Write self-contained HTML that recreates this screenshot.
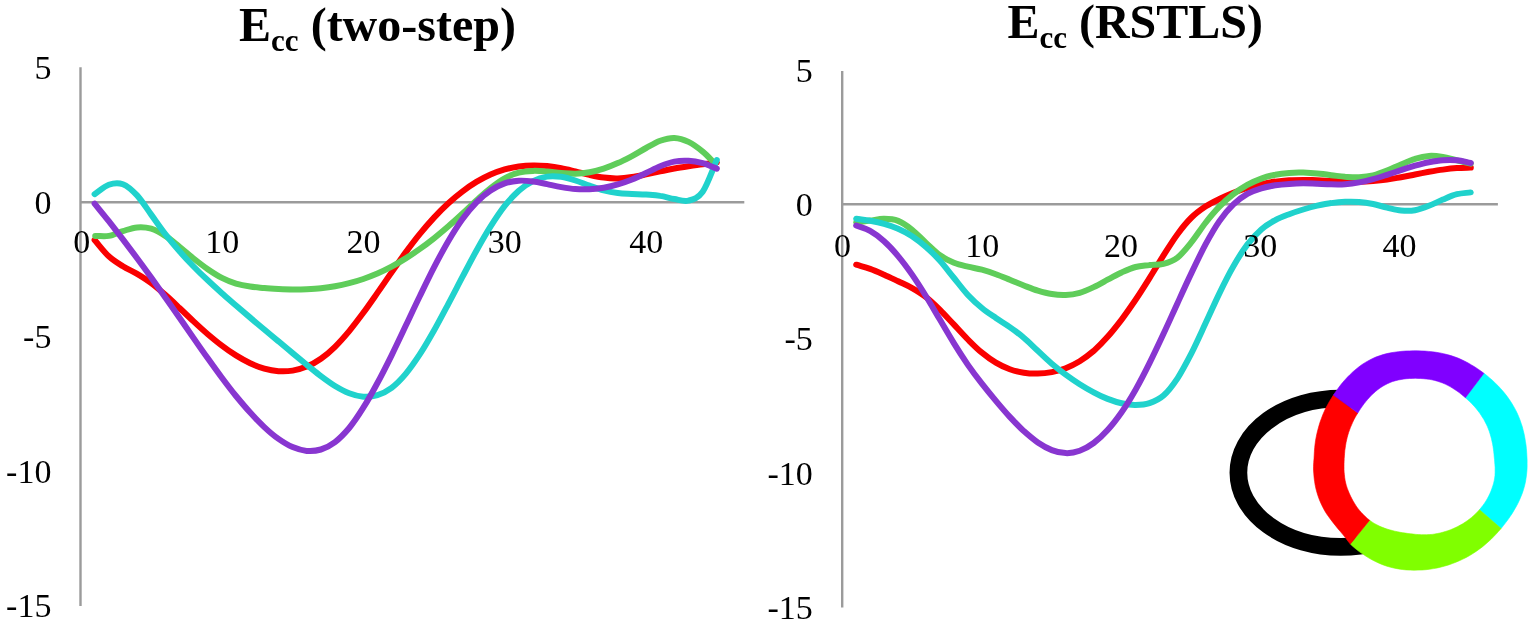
<!DOCTYPE html>
<html><head><meta charset="utf-8"><title>Ecc charts</title>
<style>
html,body{margin:0;padding:0;background:#fff;}
body{width:1535px;height:626px;overflow:hidden;}
svg{display:block;}
.t{font-family:"Liberation Serif","Times New Roman",serif;font-size:34px;fill:#000;}
.ti{font-family:"Liberation Serif","Times New Roman",serif;font-size:48px;font-weight:bold;fill:#000;}
</style></head><body>
<svg width="1535" height="626" viewBox="0 0 1535 626">
<rect width="1535" height="626" fill="#fff"/>
<text x="239.1" y="41.0" class="ti">E<tspan font-size="31" dy="9.6">cc</tspan><tspan dy="-9.6"> (two-step)</tspan></text>
<text x="1007.4" y="37.7" class="ti">E<tspan font-size="31" dy="9.9">cc</tspan><tspan dy="-9.9"> (RSTLS)</tspan></text>
<line x1="80.5" y1="202.3" x2="744.3" y2="202.3" stroke="#9b9b9b" stroke-width="2.4"/>
<line x1="80.5" y1="67.3" x2="80.5" y2="605.9" stroke="#9b9b9b" stroke-width="2.4"/>
<path d="M94.6,240.0 C99.4,245.5 104.1,252.0 108.8,256.3 C113.5,260.7 118.2,263.4 122.9,266.3 C127.6,269.2 132.3,271.1 137.1,273.9 C141.8,276.7 146.5,279.6 151.2,283.1 C155.9,286.6 160.6,290.7 165.3,294.8 C170.1,298.9 174.8,303.5 179.5,308.0 C184.2,312.4 188.9,317.1 193.6,321.4 C198.3,325.8 203.0,330.2 207.8,334.2 C212.5,338.2 217.2,342.1 221.9,345.6 C226.6,349.2 231.3,352.5 236.0,355.4 C240.8,358.4 245.5,361.0 250.2,363.2 C254.9,365.4 259.6,367.2 264.3,368.6 C269.0,369.9 273.7,370.8 278.5,371.2 C283.2,371.5 287.9,371.4 292.6,370.6 C297.3,369.9 302.0,368.6 306.7,366.6 C311.5,364.7 316.2,362.1 320.9,358.8 C325.6,355.5 330.3,351.4 335.0,346.8 C339.7,342.2 344.4,336.8 349.2,331.1 C353.9,325.4 358.6,319.1 363.3,312.8 C368.0,306.4 372.7,299.6 377.4,292.9 C382.2,286.1 386.9,279.1 391.6,272.4 C396.3,265.6 401.0,258.8 405.7,252.4 C410.4,246.0 415.1,239.7 419.9,233.9 C424.6,228.1 429.3,222.7 434.0,217.6 C438.7,212.5 443.4,207.8 448.1,203.5 C452.9,199.1 457.6,195.1 462.3,191.6 C467.0,188.0 471.7,184.7 476.4,181.9 C481.1,179.1 485.8,176.6 490.6,174.5 C495.3,172.4 500.0,170.8 504.7,169.4 C509.4,168.1 514.1,167.2 518.8,166.5 C523.6,165.9 528.3,165.6 533.0,165.5 C537.7,165.4 542.4,165.7 547.1,166.1 C551.8,166.6 556.5,167.3 561.3,168.2 C566.0,169.1 570.7,170.3 575.4,171.4 C580.1,172.5 584.8,173.9 589.5,174.9 C594.3,176.0 599.0,177.1 603.7,177.6 C608.4,178.2 613.1,178.5 617.8,178.4 C622.5,178.2 627.2,177.6 632.0,176.9 C636.7,176.3 641.4,175.3 646.1,174.4 C650.8,173.4 655.5,172.3 660.2,171.3 C665.0,170.4 669.7,169.4 674.4,168.5 C679.1,167.6 683.8,166.9 688.5,166.2 C693.2,165.5 697.9,164.8 702.7,164.2 C707.4,163.7 712.1,163.2 716.8,162.6" fill="none" stroke="#fa0000" stroke-width="6.0" stroke-linecap="round" stroke-linejoin="round"/>
<path d="M95.2,235.9 C99.7,235.9 104.2,236.7 108.8,235.9 C113.4,235.1 118.2,232.5 122.9,231.1 C127.6,229.7 132.3,227.8 137.1,227.4 C141.8,227.0 146.5,227.3 151.2,228.7 C155.9,230.1 160.6,232.8 165.3,235.9 C170.1,238.9 174.8,243.1 179.5,246.8 C184.2,250.6 188.9,254.8 193.6,258.5 C198.3,262.2 203.0,265.9 207.8,269.2 C212.5,272.4 217.2,275.5 221.9,277.9 C226.6,280.3 231.3,282.2 236.0,283.6 C240.8,285.0 245.5,285.8 250.2,286.5 C254.9,287.3 259.6,287.6 264.3,288.1 C269.0,288.5 273.7,288.8 278.5,289.1 C283.2,289.3 287.9,289.5 292.6,289.5 C297.3,289.5 302.0,289.5 306.7,289.3 C311.5,289.0 316.2,288.7 320.9,288.2 C325.6,287.7 330.3,287.1 335.0,286.2 C339.7,285.4 344.4,284.4 349.2,283.2 C353.9,282.0 358.6,280.6 363.3,279.0 C368.0,277.4 372.7,275.6 377.4,273.6 C382.2,271.5 386.9,269.2 391.6,266.7 C396.3,264.1 401.0,261.4 405.7,258.4 C410.4,255.5 415.1,252.3 419.9,248.9 C424.6,245.6 429.3,242.0 434.0,238.3 C438.7,234.5 443.4,230.6 448.1,226.5 C452.9,222.5 457.6,218.2 462.3,213.8 C467.0,209.5 471.7,204.8 476.4,200.5 C481.1,196.3 485.8,191.8 490.6,188.1 C495.3,184.4 500.0,180.9 504.7,178.3 C509.4,175.7 514.1,173.9 518.8,172.7 C523.6,171.4 528.3,171.1 533.0,170.9 C537.7,170.7 542.4,171.2 547.1,171.5 C551.8,171.9 556.5,172.6 561.3,173.0 C566.0,173.3 570.7,173.8 575.4,173.7 C580.1,173.6 584.8,173.1 589.5,172.3 C594.3,171.5 599.0,170.2 603.7,168.7 C608.4,167.1 613.1,165.2 617.8,163.1 C622.5,161.1 627.2,158.6 632.0,156.1 C636.7,153.6 641.4,150.6 646.1,148.0 C650.8,145.4 655.5,142.4 660.2,140.7 C665.0,139.0 669.7,137.7 674.4,137.9 C679.1,138.1 683.8,139.6 688.5,141.9 C693.2,144.2 698.3,148.0 702.7,151.6 C707.0,155.2 710.7,159.3 714.7,163.2" fill="none" stroke="#5fcd5a" stroke-width="6.0" stroke-linecap="round" stroke-linejoin="round"/>
<path d="M94.6,194.2 C99.4,191.0 104.1,186.4 108.8,184.7 C113.5,183.0 118.2,182.4 122.9,184.2 C127.6,185.9 132.3,190.3 137.1,195.4 C141.8,200.5 146.5,208.2 151.2,214.6 C155.9,221.1 160.6,228.0 165.3,234.1 C170.1,240.2 174.8,245.9 179.5,251.3 C184.2,256.7 188.9,261.7 193.6,266.5 C198.3,271.4 203.0,275.9 207.8,280.3 C212.5,284.8 217.2,289.0 221.9,293.2 C226.6,297.4 231.3,301.4 236.0,305.5 C240.8,309.6 245.5,313.6 250.2,317.6 C254.9,321.6 259.6,325.6 264.3,329.5 C269.0,333.5 273.7,337.4 278.5,341.3 C283.2,345.3 287.9,349.2 292.6,353.1 C297.3,357.0 302.0,360.9 306.7,364.8 C311.5,368.6 316.2,372.5 320.9,376.1 C325.6,379.6 330.3,383.1 335.0,386.0 C339.7,388.8 344.4,391.4 349.2,393.2 C353.9,395.0 358.6,396.3 363.3,396.7 C368.0,397.0 372.7,396.7 377.4,395.2 C382.2,393.8 386.9,391.4 391.6,387.9 C396.3,384.3 401.0,379.5 405.7,373.9 C410.4,368.3 415.1,361.5 419.9,354.2 C424.6,347.0 429.3,338.8 434.0,330.5 C438.7,322.2 443.4,313.2 448.1,304.3 C452.9,295.4 457.6,286.1 462.3,277.2 C467.0,268.3 471.7,259.2 476.4,250.7 C481.1,242.3 485.8,233.9 490.6,226.4 C495.3,219.0 500.0,211.9 504.7,205.9 C509.4,200.0 514.1,194.9 518.8,190.7 C523.6,186.6 528.3,183.4 533.0,181.1 C537.7,178.7 542.4,177.3 547.1,176.6 C551.8,175.9 556.5,176.2 561.3,176.8 C566.0,177.5 570.7,179.0 575.4,180.5 C580.1,182.0 584.8,184.1 589.5,185.7 C594.3,187.4 599.0,189.2 603.7,190.4 C608.4,191.6 613.1,192.4 617.8,193.0 C622.5,193.6 627.2,193.7 632.0,194.0 C636.7,194.2 641.4,194.2 646.1,194.5 C650.8,194.9 655.5,195.1 660.2,195.9 C665.0,196.6 669.7,198.2 674.4,199.0 C679.1,199.8 683.8,201.8 688.5,200.6 C693.2,199.4 697.9,198.4 702.7,191.7 C707.4,184.9 712.1,170.6 716.8,160.1" fill="none" stroke="#20d2cc" stroke-width="6.0" stroke-linecap="round" stroke-linejoin="round"/>
<path d="M94.6,203.7 C99.4,209.6 104.1,215.3 108.8,221.2 C113.5,227.2 118.2,233.3 122.9,239.4 C127.6,245.6 132.3,251.8 137.1,258.2 C141.8,264.5 146.5,271.0 151.2,277.5 C155.9,284.1 160.6,290.7 165.3,297.4 C170.1,304.1 174.8,310.9 179.5,317.7 C184.2,324.5 188.9,331.4 193.6,338.1 C198.3,344.9 203.0,351.7 207.8,358.3 C212.5,364.9 217.2,371.5 221.9,377.7 C226.6,384.0 231.3,390.2 236.0,396.0 C240.8,401.8 245.5,407.4 250.2,412.6 C254.9,417.8 259.6,422.8 264.3,427.1 C269.0,431.5 273.7,435.6 278.5,438.9 C283.2,442.2 287.9,445.1 292.6,447.1 C297.3,449.1 302.0,450.5 306.7,450.9 C311.5,451.3 316.2,450.9 320.9,449.5 C325.6,448.0 330.3,445.7 335.0,442.1 C339.7,438.5 344.4,433.7 349.2,428.0 C353.9,422.3 358.6,415.2 363.3,407.7 C368.0,400.3 372.7,391.8 377.4,383.0 C382.2,374.3 386.9,364.8 391.6,355.3 C396.3,345.7 401.0,335.7 405.7,325.8 C410.4,315.9 415.1,305.8 419.9,296.0 C424.6,286.3 429.3,276.5 434.0,267.4 C438.7,258.3 443.4,249.4 448.1,241.4 C452.9,233.4 457.6,225.8 462.3,219.3 C467.0,212.8 471.7,207.2 476.4,202.4 C481.1,197.6 485.8,193.6 490.6,190.5 C495.3,187.3 500.0,185.0 504.7,183.4 C509.4,181.8 514.1,181.0 518.8,180.7 C523.6,180.4 528.3,180.9 533.0,181.5 C537.7,182.0 542.4,183.2 547.1,184.1 C551.8,185.1 556.5,186.3 561.3,187.1 C566.0,187.9 570.7,188.7 575.4,189.0 C580.1,189.4 584.8,189.4 589.5,189.2 C594.3,189.0 599.0,188.4 603.7,187.7 C608.4,186.9 613.1,185.8 617.8,184.4 C622.5,183.1 627.2,181.4 632.0,179.5 C636.7,177.6 641.4,175.3 646.1,173.0 C650.8,170.8 655.5,168.1 660.2,166.2 C665.0,164.3 669.7,162.5 674.4,161.6 C679.1,160.7 683.8,160.5 688.5,160.8 C693.2,161.0 697.9,161.9 702.7,163.2 C707.4,164.5 712.1,166.8 716.8,168.6" fill="none" stroke="#8836d0" stroke-width="6.0" stroke-linecap="round" stroke-linejoin="round"/>
<text x="51.4" y="78.7" text-anchor="end" class="t">5</text>
<text x="51.4" y="213.5" text-anchor="end" class="t">0</text>
<text x="51.4" y="348.1" text-anchor="end" class="t">-5</text>
<text x="51.4" y="482.7" text-anchor="end" class="t">-10</text>
<text x="51.4" y="617.4" text-anchor="end" class="t">-15</text>
<text x="81.7" y="253.2" text-anchor="middle" class="t">0</text>
<text x="222.2" y="253.2" text-anchor="middle" class="t">10</text>
<text x="363.4" y="253.2" text-anchor="middle" class="t">20</text>
<text x="504.8" y="253.2" text-anchor="middle" class="t">30</text>
<text x="646.3" y="253.2" text-anchor="middle" class="t">40</text>
<line x1="842.2" y1="204.3" x2="1497.9" y2="204.3" stroke="#9b9b9b" stroke-width="2.4"/>
<line x1="842.2" y1="71.0" x2="842.2" y2="607.5" stroke="#9b9b9b" stroke-width="2.4"/>
<path d="M856.2,264.7 C860.8,266.1 865.5,267.3 870.1,268.9 C874.8,270.6 879.5,272.7 884.1,274.7 C888.8,276.8 893.4,279.0 898.1,281.2 C902.7,283.5 907.4,285.4 912.1,288.1 C916.7,290.7 921.4,293.5 926.0,297.2 C930.7,300.8 935.3,305.3 940.0,309.9 C944.6,314.5 949.3,319.7 954.0,324.6 C958.6,329.6 963.3,334.9 967.9,339.5 C972.6,344.2 977.2,348.9 981.9,352.7 C986.6,356.6 991.2,359.9 995.9,362.6 C1000.5,365.4 1005.2,367.5 1009.8,369.2 C1014.5,370.9 1019.2,372.0 1023.8,372.7 C1028.5,373.5 1033.1,373.7 1037.8,373.6 C1042.4,373.5 1047.1,373.0 1051.8,372.1 C1056.4,371.2 1061.1,370.0 1065.7,368.2 C1070.4,366.4 1075.0,364.2 1079.7,361.3 C1084.3,358.4 1089.0,354.9 1093.7,350.9 C1098.3,346.8 1103.0,342.0 1107.6,336.8 C1112.3,331.6 1116.9,325.7 1121.6,319.6 C1126.3,313.4 1130.9,306.7 1135.6,299.8 C1140.2,292.9 1144.9,285.5 1149.5,278.1 C1154.2,270.7 1158.9,262.7 1163.5,255.4 C1168.2,248.1 1172.8,240.5 1177.5,234.2 C1182.1,227.9 1186.8,222.1 1191.5,217.5 C1196.1,212.9 1200.8,209.6 1205.4,206.5 C1210.1,203.5 1214.7,201.3 1219.4,199.0 C1224.0,196.7 1228.7,194.7 1233.4,192.8 C1238.0,191.0 1242.7,189.3 1247.3,187.9 C1252.0,186.4 1256.6,185.2 1261.3,184.1 C1266.0,183.1 1270.6,182.2 1275.3,181.6 C1279.9,180.9 1284.6,180.5 1289.2,180.2 C1293.9,179.9 1298.6,179.9 1303.2,179.9 C1307.9,179.9 1312.5,180.1 1317.2,180.2 C1321.8,180.4 1326.5,180.7 1331.2,180.9 C1335.8,181.1 1340.5,181.4 1345.1,181.5 C1349.8,181.6 1354.4,181.7 1359.1,181.7 C1363.7,181.6 1368.4,181.4 1373.1,181.1 C1377.7,180.7 1382.4,180.2 1387.0,179.5 C1391.7,178.9 1396.3,178.0 1401.0,177.2 C1405.7,176.4 1410.3,175.4 1415.0,174.5 C1419.6,173.6 1424.3,172.7 1428.9,171.8 C1433.6,171.0 1438.3,170.2 1442.9,169.6 C1447.6,168.9 1452.2,168.3 1456.9,168.0 C1461.5,167.7 1466.2,167.7 1470.8,167.6" fill="none" stroke="#fa0000" stroke-width="6.0" stroke-linecap="round" stroke-linejoin="round"/>
<path d="M856.2,222.4 C860.8,221.8 865.5,221.2 870.1,220.6 C874.8,220.0 879.5,218.7 884.1,218.8 C888.8,218.8 893.4,219.0 898.1,220.9 C902.7,222.7 907.4,226.1 912.1,229.8 C916.7,233.4 921.4,238.7 926.0,242.9 C930.7,247.2 935.3,252.0 940.0,255.3 C944.6,258.6 949.3,260.9 954.0,262.8 C958.6,264.7 963.3,265.6 967.9,266.7 C972.6,267.8 977.2,268.5 981.9,269.7 C986.6,271.0 991.2,272.5 995.9,274.2 C1000.5,275.8 1005.2,277.9 1009.8,279.8 C1014.5,281.7 1019.2,283.7 1023.8,285.5 C1028.5,287.3 1033.1,289.2 1037.8,290.6 C1042.4,292.0 1047.1,293.3 1051.8,294.0 C1056.4,294.8 1061.1,295.2 1065.7,295.0 C1070.4,294.8 1075.0,294.1 1079.7,292.8 C1084.3,291.5 1089.0,289.3 1093.7,287.1 C1098.3,285.0 1103.0,282.2 1107.6,279.7 C1112.3,277.3 1116.9,274.5 1121.6,272.4 C1126.3,270.3 1130.9,268.2 1135.6,267.0 C1140.2,265.8 1144.9,265.7 1149.5,265.1 C1154.2,264.6 1158.9,265.1 1163.5,263.8 C1168.2,262.6 1172.8,261.2 1177.5,257.6 C1182.1,254.0 1186.8,248.0 1191.5,242.2 C1196.1,236.4 1200.8,228.9 1205.4,223.0 C1210.1,217.0 1214.7,211.5 1219.4,206.7 C1224.0,201.9 1228.7,197.8 1233.4,194.2 C1238.0,190.5 1242.7,187.5 1247.3,184.9 C1252.0,182.3 1256.6,180.3 1261.3,178.6 C1266.0,176.8 1270.6,175.6 1275.3,174.7 C1279.9,173.7 1284.6,173.2 1289.2,172.9 C1293.9,172.5 1298.6,172.5 1303.2,172.6 C1307.9,172.8 1312.5,173.1 1317.2,173.6 C1321.8,174.0 1326.5,174.6 1331.2,175.2 C1335.8,175.7 1340.5,176.4 1345.1,176.8 C1349.8,177.1 1354.4,177.5 1359.1,177.3 C1363.7,177.0 1368.4,176.5 1373.1,175.4 C1377.7,174.3 1382.4,172.5 1387.0,170.6 C1391.7,168.8 1396.3,166.4 1401.0,164.5 C1405.7,162.5 1410.3,160.3 1415.0,158.9 C1419.6,157.4 1424.3,156.2 1428.9,155.9 C1433.6,155.5 1438.3,156.2 1442.9,156.9 C1447.6,157.7 1452.2,159.3 1456.9,160.4 C1461.5,161.5 1466.2,162.5 1470.8,163.6" fill="none" stroke="#5fcd5a" stroke-width="6.0" stroke-linecap="round" stroke-linejoin="round"/>
<path d="M856.2,218.8 C860.8,219.5 865.5,219.9 870.1,220.8 C874.8,221.6 879.5,222.5 884.1,223.8 C888.8,225.1 893.4,226.6 898.1,228.7 C902.7,230.7 907.4,233.2 912.1,236.2 C916.7,239.3 921.4,242.8 926.0,246.9 C930.7,251.0 935.3,255.6 940.0,260.8 C944.6,266.0 949.3,272.3 954.0,278.0 C958.6,283.7 963.3,290.0 967.9,295.0 C972.6,300.0 977.2,304.2 981.9,308.0 C986.6,311.9 991.2,314.8 995.9,318.0 C1000.5,321.2 1005.2,323.8 1009.8,327.1 C1014.5,330.4 1019.2,333.8 1023.8,337.8 C1028.5,341.7 1033.1,346.5 1037.8,350.8 C1042.4,355.2 1047.1,359.7 1051.8,363.7 C1056.4,367.6 1061.1,371.3 1065.7,374.7 C1070.4,378.2 1075.0,381.3 1079.7,384.2 C1084.3,387.1 1089.0,389.9 1093.7,392.3 C1098.3,394.8 1103.0,397.1 1107.6,398.9 C1112.3,400.7 1116.9,402.3 1121.6,403.3 C1126.3,404.3 1130.9,405.0 1135.6,404.9 C1140.2,404.9 1144.9,404.7 1149.5,403.1 C1154.2,401.5 1158.9,399.6 1163.5,395.5 C1168.2,391.4 1172.8,385.3 1177.5,378.3 C1182.1,371.2 1186.8,362.2 1191.5,353.1 C1196.1,344.0 1200.8,333.5 1205.4,323.6 C1210.1,313.7 1214.7,303.0 1219.4,293.4 C1224.0,283.9 1228.7,274.4 1233.4,266.3 C1238.0,258.1 1242.7,250.8 1247.3,244.6 C1252.0,238.5 1256.6,233.5 1261.3,229.4 C1266.0,225.3 1270.6,222.6 1275.3,220.1 C1279.9,217.5 1284.6,215.9 1289.2,214.2 C1293.9,212.4 1298.6,210.9 1303.2,209.5 C1307.9,208.1 1312.5,206.8 1317.2,205.7 C1321.8,204.7 1326.5,203.7 1331.2,203.1 C1335.8,202.4 1340.5,201.9 1345.1,201.8 C1349.8,201.6 1354.4,201.6 1359.1,202.0 C1363.7,202.4 1368.4,203.1 1373.1,204.0 C1377.7,205.0 1382.4,206.5 1387.0,207.6 C1391.7,208.6 1396.3,210.0 1401.0,210.4 C1405.7,210.9 1410.3,211.0 1415.0,210.2 C1419.6,209.4 1424.3,207.6 1428.9,205.8 C1433.6,204.0 1438.3,201.5 1442.9,199.6 C1447.6,197.6 1452.2,195.4 1456.9,194.2 C1461.5,193.0 1466.1,193.0 1470.7,192.4" fill="none" stroke="#20d2cc" stroke-width="6.0" stroke-linecap="round" stroke-linejoin="round"/>
<path d="M856.2,225.5 C860.8,227.3 865.5,228.2 870.1,230.9 C874.8,233.5 879.5,237.1 884.1,241.3 C888.8,245.5 893.4,250.5 898.1,256.1 C902.7,261.6 907.4,267.9 912.1,274.6 C916.7,281.3 921.4,288.7 926.0,296.2 C930.7,303.7 935.3,311.9 940.0,319.8 C944.6,327.6 949.3,335.8 954.0,343.4 C958.6,350.9 963.3,358.1 967.9,364.9 C972.6,371.6 977.2,377.7 981.9,383.7 C986.6,389.7 991.2,395.3 995.9,400.9 C1000.5,406.4 1005.2,411.9 1009.8,416.9 C1014.5,421.9 1019.2,426.8 1023.8,431.1 C1028.5,435.3 1033.1,439.3 1037.8,442.5 C1042.4,445.6 1047.1,448.3 1051.8,450.1 C1056.4,451.9 1061.1,453.0 1065.7,453.1 C1070.4,453.3 1075.0,452.5 1079.7,450.8 C1084.3,449.1 1089.0,446.5 1093.7,443.0 C1098.3,439.6 1103.0,435.3 1107.6,430.1 C1112.3,425.0 1116.9,419.0 1121.6,412.3 C1126.3,405.5 1130.9,397.9 1135.6,389.7 C1140.2,381.5 1144.9,372.4 1149.5,363.1 C1154.2,353.7 1158.9,343.7 1163.5,333.8 C1168.2,323.8 1172.8,313.4 1177.5,303.2 C1182.1,293.1 1186.8,282.7 1191.5,272.9 C1196.1,263.2 1200.8,253.3 1205.4,244.6 C1210.1,236.0 1214.7,227.8 1219.4,221.1 C1224.0,214.3 1228.7,208.8 1233.4,204.3 C1238.0,199.8 1242.7,196.6 1247.3,193.9 C1252.0,191.3 1256.6,189.7 1261.3,188.3 C1266.0,186.8 1270.6,186.1 1275.3,185.3 C1279.9,184.6 1284.6,184.2 1289.2,183.9 C1293.9,183.6 1298.6,183.4 1303.2,183.3 C1307.9,183.3 1312.5,183.5 1317.2,183.7 C1321.8,183.9 1326.5,184.2 1331.2,184.3 C1335.8,184.4 1340.5,184.5 1345.1,184.2 C1349.8,183.9 1354.4,183.3 1359.1,182.4 C1363.7,181.6 1368.4,180.4 1373.1,179.1 C1377.7,177.9 1382.4,176.3 1387.0,174.8 C1391.7,173.3 1396.3,171.7 1401.0,170.2 C1405.7,168.6 1410.3,167.1 1415.0,165.7 C1419.6,164.4 1424.3,163.1 1428.9,162.2 C1433.6,161.3 1438.3,160.5 1442.9,160.2 C1447.6,159.8 1452.2,159.8 1456.9,160.2 C1461.5,160.7 1466.2,162.1 1470.8,163.0" fill="none" stroke="#8836d0" stroke-width="6.0" stroke-linecap="round" stroke-linejoin="round"/>
<text x="812.8" y="81.8" text-anchor="end" class="t">5</text>
<text x="812.8" y="215.5" text-anchor="end" class="t">0</text>
<text x="812.8" y="350.2" text-anchor="end" class="t">-5</text>
<text x="812.8" y="485.2" text-anchor="end" class="t">-10</text>
<text x="812.8" y="619.2" text-anchor="end" class="t">-15</text>
<text x="842.6" y="256.5" text-anchor="middle" class="t">0</text>
<text x="982.2" y="256.5" text-anchor="middle" class="t">10</text>
<text x="1121.0" y="256.5" text-anchor="middle" class="t">20</text>
<text x="1260.3" y="256.5" text-anchor="middle" class="t">30</text>
<text x="1399.6" y="256.5" text-anchor="middle" class="t">40</text>
<ellipse cx="1340.6" cy="472.7" rx="102.2" ry="74.2" fill="none" stroke="#000" stroke-width="17.7"/>
<path d="M1495.3,458.0 L1495.6,460.6 L1495.8,463.3 L1496.0,466.0 L1496.1,468.7 L1496.1,471.4 L1496.0,474.2 L1495.8,476.9 L1495.4,479.6 L1494.9,482.3 L1494.1,485.0 L1493.3,487.6 L1492.4,490.2 L1491.3,492.8 L1490.2,495.3 L1488.9,497.8 L1487.5,500.2 L1486.1,502.6 L1484.5,504.9 L1482.9,507.1 L1481.1,509.3 L1479.3,511.4 L1477.4,513.4 L1475.4,515.4 L1473.3,517.2 L1471.2,519.0 L1469.0,520.7 L1466.7,522.3 L1464.4,523.9 L1462.1,525.3 L1459.6,526.7 L1457.2,527.9 L1454.7,529.1 L1452.1,530.2 L1449.6,531.2 L1447.0,532.1 L1444.3,532.9 L1441.7,533.6 L1439.0,534.2 L1436.3,534.8 L1433.6,535.2 L1430.9,535.5 L1428.2,535.7 L1425.4,535.7 L1422.7,535.7 L1420.0,535.6 L1417.3,535.5 L1414.6,535.3 L1411.9,535.0 L1409.2,534.7 L1406.5,534.3 L1403.9,533.9 L1401.2,533.5 L1398.5,533.0 L1395.8,532.4 L1393.1,531.8 L1390.5,531.1 L1387.8,530.4 L1385.1,529.5 L1382.5,528.5 L1379.9,527.4 L1377.4,526.2 L1374.9,524.9 L1372.4,523.4 L1370.1,521.9 L1367.9,520.1 L1365.7,518.3 L1363.6,516.4 L1361.6,514.4 L1359.7,512.3 L1357.9,510.1 L1356.2,507.8 L1354.6,505.5 L1353.1,503.1 L1351.7,500.7 L1350.4,498.2 L1349.2,495.6 L1348.1,493.1 L1347.0,490.5 L1346.1,487.9 L1345.3,485.2 L1344.6,482.5 L1344.0,479.8 L1343.6,477.0 L1343.3,474.3 L1343.1,471.6 L1343.0,468.8 L1343.0,466.1 L1343.0,463.4 L1343.1,460.7 L1343.3,458.0 L1343.4,455.3 L1343.6,452.7 L1343.9,450.0 L1344.2,447.4 L1344.6,444.7 L1345.1,442.1 L1345.7,439.5 L1346.3,436.9 L1347.1,434.3 L1347.9,431.7 L1348.7,429.2 L1349.7,426.7 L1350.7,424.2 L1351.8,421.8 L1353.0,419.3 L1354.3,416.9 L1355.6,414.6 L1357.1,412.3 L1358.5,410.0 L1360.0,407.7 L1361.6,405.4 L1363.3,403.2 L1365.0,401.0 L1366.7,398.9 L1368.6,396.7 L1370.5,394.7 L1372.6,392.7 L1374.7,390.8 L1376.9,389.0 L1379.2,387.3 L1381.6,385.8 L1384.1,384.3 L1386.6,383.0 L1389.2,381.8 L1391.9,380.8 L1394.6,379.9 L1397.4,379.2 L1400.2,378.6 L1403.0,378.1 L1405.9,377.8 L1408.7,377.6 L1411.5,377.4 L1414.4,377.4 L1417.2,377.3 L1420.0,377.4 L1422.8,377.6 L1425.6,377.9 L1428.4,378.2 L1431.1,378.7 L1433.9,379.2 L1436.6,379.9 L1439.3,380.7 L1441.9,381.7 L1444.5,382.7 L1447.0,383.9 L1449.4,385.1 L1451.8,386.5 L1454.2,387.9 L1456.5,389.4 L1458.7,391.0 L1460.8,392.6 L1462.9,394.3 L1465.0,396.0 L1467.0,397.8 L1469.0,399.6 L1470.9,401.4 L1472.8,403.3 L1474.6,405.3 L1476.4,407.2 L1478.1,409.3 L1479.7,411.4 L1481.2,413.5 L1482.7,415.7 L1484.1,418.0 L1485.4,420.3 L1486.6,422.6 L1487.7,425.0 L1488.8,427.4 L1489.7,429.8 L1490.6,432.3 L1491.4,434.8 L1492.1,437.3 L1492.7,439.9 L1493.3,442.4 L1493.8,445.0 L1494.2,447.6 L1494.5,450.2 L1494.8,452.8 L1495.1,455.4Z" fill="#fff"/>
<path d="M1483.9,373.3 L1486.8,375.5 L1489.6,377.9 L1492.4,380.3 L1495.1,382.9 L1497.8,385.5 L1500.3,388.2 L1502.8,391.0 L1505.1,393.8 L1507.4,396.8 L1509.5,399.8 L1511.6,403.0 L1513.5,406.2 L1515.3,409.4 L1517.0,412.8 L1518.5,416.2 L1519.9,419.7 L1521.1,423.2 L1522.3,426.7 L1523.2,430.3 L1524.1,434.0 L1524.8,437.6 L1525.4,441.3 L1526.0,445.0 L1526.4,448.7 L1526.7,452.4 L1526.9,456.1 L1527.1,459.9 L1527.1,463.6 L1527.1,467.4 L1526.9,471.1 L1526.5,474.9 L1526.0,478.6 L1525.4,482.3 L1524.5,486.0 L1523.5,489.6 L1522.3,493.2 L1520.9,496.7 L1519.4,500.2 L1517.8,503.6 L1516.0,506.9 L1514.1,510.2 L1512.2,513.4 L1510.1,516.5 L1508.0,519.6 L1505.7,522.6 L1503.4,525.6 L1501.1,528.5 L1479.5,509.7 L1481.2,507.6 L1482.9,505.4 L1484.5,503.2 L1486.0,500.9 L1487.4,498.5 L1488.7,496.1 L1489.9,493.6 L1491.0,491.1 L1491.9,488.5 L1492.8,485.9 L1493.6,483.3 L1494.2,480.7 L1494.7,478.0 L1495.0,475.3 L1495.1,472.6 L1495.1,469.9 L1495.1,467.2 L1494.9,464.6 L1494.7,461.9 L1494.5,459.3 L1494.2,456.7 L1494.0,454.1 L1493.7,451.6 L1493.4,449.0 L1493.0,446.4 L1492.6,443.9 L1492.0,441.4 L1491.5,438.9 L1490.8,436.4 L1490.1,433.9 L1489.3,431.4 L1488.4,429.0 L1487.4,426.6 L1486.3,424.2 L1485.1,421.9 L1483.9,419.6 L1482.5,417.4 L1481.1,415.2 L1479.7,413.1 L1478.1,411.0 L1476.5,408.9 L1474.8,406.9 L1473.0,405.0 L1471.2,403.1 L1469.3,401.3 L1467.4,399.5 L1465.4,397.7Z" fill="#00ffff" stroke="#00ffff" stroke-width="0.6"/>
<path d="M1501.1,528.5 L1498.6,531.3 L1496.1,534.1 L1493.5,536.8 L1490.8,539.5 L1488.0,542.0 L1485.2,544.5 L1482.3,546.9 L1479.2,549.2 L1476.1,551.4 L1472.9,553.5 L1469.7,555.5 L1466.3,557.4 L1462.9,559.1 L1459.4,560.7 L1455.9,562.2 L1452.3,563.6 L1448.6,564.9 L1444.9,566.0 L1441.2,567.0 L1437.4,567.9 L1433.6,568.6 L1429.7,569.2 L1425.9,569.7 L1422.0,570.0 L1418.0,570.1 L1414.1,570.2 L1410.2,570.1 L1406.3,569.9 L1402.3,569.5 L1398.4,568.9 L1394.6,568.2 L1390.7,567.3 L1386.9,566.2 L1383.2,564.9 L1379.5,563.4 L1376.0,561.8 L1372.4,560.0 L1369.0,558.1 L1365.7,556.0 L1362.4,553.8 L1359.2,551.6 L1356.2,549.2 L1353.2,546.7 L1350.3,544.1 L1369.6,520.2 L1371.9,521.9 L1374.2,523.4 L1376.7,524.7 L1379.2,526.0 L1381.7,527.1 L1384.3,528.1 L1386.9,529.0 L1389.5,529.8 L1392.2,530.5 L1394.8,531.2 L1397.5,531.7 L1400.1,532.3 L1402.8,532.7 L1405.4,533.1 L1408.0,533.5 L1410.7,533.8 L1413.3,534.1 L1416.0,534.4 L1418.7,534.6 L1421.3,534.7 L1424.0,534.7 L1426.7,534.7 L1429.4,534.6 L1432.1,534.4 L1434.8,534.0 L1437.4,533.5 L1440.1,533.0 L1442.7,532.3 L1445.3,531.5 L1447.9,530.7 L1450.5,529.8 L1453.0,528.7 L1455.5,527.6 L1457.9,526.4 L1460.3,525.1 L1462.7,523.8 L1465.0,522.3 L1467.3,520.7 L1469.5,519.1 L1471.6,517.4 L1473.7,515.6 L1475.7,513.7 L1477.6,511.7 L1479.5,509.7Z" fill="#80ff00" stroke="#80ff00" stroke-width="0.6"/>
<path d="M1350.3,544.1 L1347.8,540.9 L1345.5,537.8 L1343.1,534.8 L1340.6,531.8 L1338.1,528.9 L1335.7,525.9 L1333.3,522.9 L1331.0,519.9 L1328.7,516.8 L1326.5,513.7 L1324.5,510.4 L1322.7,507.0 L1321.0,503.5 L1319.5,500.0 L1318.2,496.4 L1317.0,492.7 L1316.0,489.0 L1315.2,485.3 L1314.6,481.5 L1314.1,477.7 L1313.8,473.9 L1313.5,470.1 L1313.5,466.3 L1313.7,462.5 L1314.0,458.8 L1314.2,455.0 L1314.4,451.3 L1314.7,447.6 L1315.1,443.9 L1315.6,440.2 L1316.3,436.5 L1317.1,432.8 L1318.0,429.2 L1319.0,425.6 L1320.1,422.0 L1321.4,418.5 L1322.7,415.0 L1324.2,411.5 L1325.8,408.1 L1327.6,404.8 L1329.4,401.5 L1331.4,398.3 L1333.4,395.1 L1357.9,412.9 L1356.4,415.2 L1355.1,417.5 L1353.8,419.9 L1352.7,422.3 L1351.6,424.8 L1350.5,427.3 L1349.6,429.8 L1348.7,432.3 L1347.9,434.9 L1347.2,437.4 L1346.6,440.0 L1346.0,442.7 L1345.6,445.3 L1345.2,447.9 L1344.8,450.6 L1344.6,453.2 L1344.4,455.9 L1344.2,458.6 L1344.1,461.2 L1344.0,463.9 L1344.0,466.6 L1344.0,469.4 L1344.1,472.1 L1344.4,474.8 L1344.7,477.6 L1345.1,480.3 L1345.7,483.0 L1346.4,485.7 L1347.3,488.4 L1348.3,491.0 L1349.4,493.6 L1350.5,496.1 L1351.8,498.6 L1353.1,501.1 L1354.6,503.5 L1356.1,505.9 L1357.7,508.2 L1359.5,510.4 L1361.3,512.5 L1363.3,514.6 L1365.3,516.6 L1367.4,518.5 L1369.6,520.2Z" fill="#ff0000" stroke="#ff0000" stroke-width="0.6"/>
<path d="M1333.4,395.1 L1335.5,392.0 L1337.7,388.9 L1340.0,385.8 L1342.4,382.8 L1344.9,379.9 L1347.5,377.1 L1350.2,374.4 L1353.0,371.7 L1356.0,369.2 L1359.0,366.8 L1362.1,364.5 L1365.4,362.4 L1368.8,360.5 L1372.2,358.7 L1375.8,357.1 L1379.4,355.8 L1383.1,354.6 L1386.9,353.6 L1390.7,352.8 L1394.5,352.2 L1398.3,351.7 L1402.1,351.3 L1405.9,351.0 L1409.7,350.9 L1413.5,350.8 L1417.3,350.8 L1421.1,350.9 L1424.9,351.1 L1428.7,351.4 L1432.4,351.8 L1436.2,352.3 L1439.9,352.9 L1443.6,353.7 L1447.2,354.6 L1450.9,355.6 L1454.5,356.8 L1458.0,358.1 L1461.4,359.6 L1464.8,361.2 L1468.2,363.0 L1471.4,364.9 L1474.6,366.8 L1477.8,368.9 L1480.8,371.0 L1483.9,373.3 L1465.4,397.7 L1463.4,396.0 L1461.3,394.3 L1459.2,392.6 L1457.0,391.0 L1454.7,389.5 L1452.4,388.0 L1450.1,386.6 L1447.6,385.3 L1445.2,384.1 L1442.6,383.0 L1440.0,382.1 L1437.4,381.2 L1434.7,380.4 L1431.9,379.8 L1429.2,379.3 L1426.4,379.0 L1423.6,378.7 L1420.8,378.5 L1418.0,378.4 L1415.2,378.3 L1412.4,378.4 L1409.6,378.5 L1406.7,378.7 L1403.9,379.0 L1401.1,379.5 L1398.3,380.0 L1395.5,380.7 L1392.7,381.5 L1390.1,382.5 L1387.4,383.7 L1384.9,385.0 L1382.4,386.4 L1380.0,388.0 L1377.7,389.7 L1375.5,391.5 L1373.4,393.4 L1371.3,395.3 L1369.4,397.4 L1367.5,399.5 L1365.8,401.6 L1364.0,403.8 L1362.4,406.0 L1360.8,408.3 L1359.3,410.6 L1357.9,412.9Z" fill="#8000ff" stroke="#8000ff" stroke-width="0.6"/>
</svg>
</body></html>
